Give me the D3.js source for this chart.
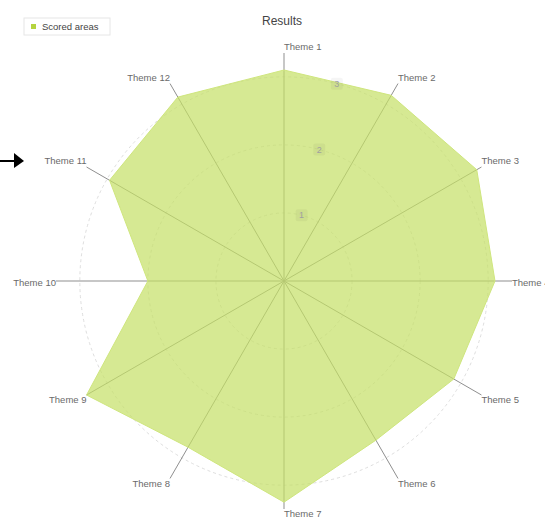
<!DOCTYPE html>
<html>
<head>
<meta charset="utf-8">
<script src="https://cdn.jsdelivr.net/npm/d3@7"></script>
<style>
  body { margin: 0; background: #fff; }
  svg { display: block; font-family: "Liberation Sans", Arial, sans-serif; }
</style>
</head>
<body>
<svg id="chart" width="545" height="518"></svg>
<script>
// chart data
var themes = ["Theme 1", "Theme 2", "Theme 3", "Theme 4", "Theme 5", "Theme 6",
              "Theme 7", "Theme 8", "Theme 9", "Theme 10", "Theme 11", "Theme 12"];
var scores = [3.1, 3.15, 3.27, 3.1, 2.88, 2.7, 3.25, 2.82, 3.35, 2.0, 2.96, 3.12];
var gridSteps = [1, 2, 3];
var seriesName = "Scored areas";
var chartTitle = "Results";

var svg = d3.select("#chart");
var cx = 284, cy = 281, radius = 228;

var r = d3.scaleLinear().domain([0, d3.max(scores)]).range([0, radius]);
var angle = d3.scalePoint().domain(themes).range([0, 2 * Math.PI * (themes.length - 1) / themes.length]);

function pt(theme, v) {
    var a = angle(theme);
    return [cx + Math.sin(a) * r(v), cy - Math.cos(a) * r(v)];
}

var g = svg.append("g");

// dashed grid rings
g.selectAll("circle.grid")
    .data(gridSteps)
    .enter().append("circle")
    .attr("class", "grid")
    .attr("cx", cx).attr("cy", cy)
    .attr("r", function(d) { return r(d); })
    .attr("fill", "none")
    .attr("stroke", "#dedede")
    .attr("stroke-dasharray", "3,3");

// spokes
g.selectAll("line.axis")
    .data(themes)
    .enter().append("line")
    .attr("class", "axis")
    .attr("x1", cx).attr("y1", cy)
    .attr("x2", function(d) { return pt(d, d3.max(scores))[0]; })
    .attr("y2", function(d) { return pt(d, d3.max(scores))[1]; })
    .attr("stroke", "#8f8f8f")
    .attr("stroke-width", 1);

// scored area
var line = d3.line().curve(d3.curveLinearClosed);
g.append("path")
    .attr("d", line(themes.map(function(t, i) { return pt(t, scores[i]); })))
    .attr("fill", "#c5e065")
    .attr("fill-opacity", 0.7)
    .attr("stroke", "#cfe67e")
    .attr("stroke-width", 1);

// step labels along the 15 degree bisector
gridSteps.forEach(function(s) {
    var a = Math.PI / 12;
    var x = cx + Math.sin(a) * r(s), y = cy - Math.cos(a) * r(s);
    g.append("rect")
        .attr("x", x - 6).attr("y", y - 6)
        .attr("width", 12).attr("height", 12)
        .attr("rx", 2)
        .attr("fill", "#000").attr("fill-opacity", 0.04);
    g.append("text")
        .attr("x", x).attr("y", y)
        .attr("dy", "0.35em")
        .attr("text-anchor", "middle")
        .attr("font-size", 9)
        .attr("fill", "#a0a0a0")
        .text(s);
});

// theme labels at end of spokes
g.selectAll("text.label")
    .data(themes)
    .enter().append("text")
    .attr("class", "label")
    .attr("x", function(d) { return pt(d, d3.max(scores))[0]; })
    .attr("y", function(d) {
        var c = Math.cos(angle(d)), y = pt(d, d3.max(scores))[1];
        if (c > 0.1) return y - 6;
        if (c < -0.1) return y + 5;
        return y + 2;
    })
    .attr("dy", "0.35em")
    .attr("text-anchor", function(d) { return Math.sin(angle(d)) < -0.1 ? "end" : "start"; })
    .attr("font-size", 9.5)
    .attr("fill", "#6a6a6a")
    .text(function(d) { return d; });

// title
svg.append("text")
    .attr("x", 282).attr("y", 21)
    .attr("dy", "0.35em")
    .attr("text-anchor", "middle")
    .attr("font-size", 12)
    .attr("fill", "#444")
    .text(chartTitle);

// legend
var lg = svg.append("g");
lg.append("rect")
    .attr("x", 24).attr("y", 18).attr("width", 86).attr("height", 17)
    .attr("fill", "#fff")
    .attr("stroke", "#e6e6e6");
lg.append("rect")
    .attr("x", 31).attr("y", 24).attr("width", 5).attr("height", 5)
    .attr("fill", "#b5d43f");
lg.append("text")
    .attr("x", 42).attr("y", 26.5)
    .attr("dy", "0.35em")
    .attr("font-size", 9.5)
    .attr("fill", "#444")
    .text(seriesName);

// pointer arrow at left edge
svg.append("line")
    .attr("x1", 0).attr("y1", 161).attr("x2", 15).attr("y2", 161)
    .attr("stroke", "#000").attr("stroke-width", 2);
svg.append("path")
    .attr("d", "M14,153 L24,161 L14,168 Z")
    .attr("fill", "#000");
</script>
</body>
</html>
